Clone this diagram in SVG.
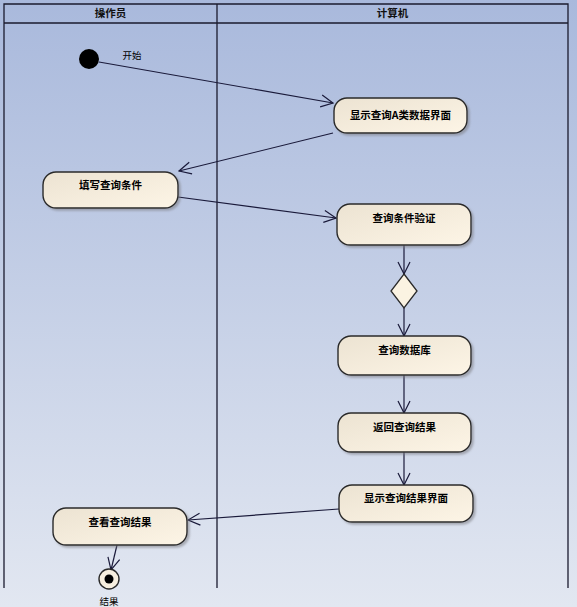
<svg xmlns="http://www.w3.org/2000/svg" width="577" height="607" viewBox="0 0 577 607">
<defs>
<linearGradient id="bg" x1="0" y1="0" x2="0" y2="1">
<stop offset="0" stop-color="#a9b9dc"/>
<stop offset="1" stop-color="#e2e7f1"/>
</linearGradient>
<linearGradient id="nodefill" x1="0" y1="0" x2="1" y2="1">
<stop offset="0" stop-color="#ece3d2"/>
<stop offset="1" stop-color="#fdf5e6"/>
</linearGradient>
<marker id="arr" viewBox="0 0 14 14" refX="13" refY="7" markerWidth="14" markerHeight="14" markerUnits="userSpaceOnUse" orient="auto">
<path d="M1,1 L13,7 L1,13" fill="none" stroke="#1a1a3a" stroke-width="1.2"/>
</marker>
<filter id="sh" x="-10%" y="-10%" width="130%" height="140%">
<feDropShadow dx="2" dy="2" stdDeviation="1.2" flood-color="#7a7a80" flood-opacity="0.55"/>
</filter>
</defs>
<style>
.frame{fill:none;stroke:#1b1b2e;stroke-width:1.3}
.act{fill:url(#nodefill);stroke:#2a2a2a;stroke-width:1.4;filter:url(#sh)}
.lbl{font-family:"Noto Sans CJK SC","DejaVu Sans",sans-serif;font-size:10.5px;font-weight:bold;fill:#000;text-anchor:middle}
.hdr{font-family:"Noto Sans CJK SC","DejaVu Sans",sans-serif;font-size:10.5px;font-weight:bold;fill:#111;text-anchor:middle}
.note{font-family:"Noto Sans CJK SC","DejaVu Sans",sans-serif;font-size:9.5px;fill:#000;text-anchor:middle}
.edge{fill:none;stroke:#1a1a3a;stroke-width:1.2;marker-end:url(#arr)}
</style>
<rect x="0" y="0" width="577" height="607" fill="url(#bg)"/>
<g id="swimlanes">
<path class="frame" d="M4,588 V4 H568 V588 M4,23 H568 M217,4 V588"/>
<text class="hdr" x="110.5" y="17">操作员</text>
<text class="hdr" x="392.5" y="17">计算机</text>
</g>
<g id="connectors">
<line class="edge" x1="99" y1="62" x2="333" y2="103"/>
<line class="edge" x1="333" y1="133" x2="179" y2="171"/>
<line class="edge" x1="178" y1="197" x2="336" y2="218"/>
<line class="edge" x1="404" y1="245" x2="404" y2="274"/>
<line class="edge" x1="404" y1="308" x2="404" y2="336"/>
<line class="edge" x1="404" y1="375" x2="404" y2="413"/>
<line class="edge" x1="404" y1="452" x2="404" y2="485"/>
<line class="edge" x1="339" y1="509" x2="188" y2="520"/>
<line class="edge" x1="117" y1="545" x2="111" y2="570"/>
</g>
<g id="start">
<circle cx="89" cy="59" r="10" fill="#000"/>
<text class="note" x="132" y="59">开始</text>
</g>
<g id="n1">
<rect class="act" x="334" y="98" width="133" height="35" rx="13"/>
<text class="lbl" x="400.5" y="119">显示查询A类数据界面</text>
</g>
<g id="n2">
<rect class="act" x="43" y="172" width="135" height="36" rx="13"/>
<text class="lbl" x="110.5" y="189">填写查询条件</text>
</g>
<g id="n3">
<rect class="act" x="337" y="204" width="134" height="41" rx="13"/>
<text class="lbl" x="404" y="222">查询条件验证</text>
</g>
<g id="decision">
<polygon points="404,274 417,291 404,308 391,291" fill="#fbf3e2" stroke="#2a2a2a" stroke-width="1.3"/>
</g>
<g id="n4">
<rect class="act" x="338" y="336" width="133" height="39" rx="13"/>
<text class="lbl" x="404.5" y="354">查询数据库</text>
</g>
<g id="n5">
<rect class="act" x="338" y="413" width="133" height="39" rx="13"/>
<text class="lbl" x="404.5" y="431">返回查询结果</text>
</g>
<g id="n6">
<rect class="act" x="339" y="485" width="134" height="37" rx="13"/>
<text class="lbl" x="406" y="502">显示查询结果界面</text>
</g>
<g id="n7">
<rect class="act" x="53" y="508" width="134" height="37" rx="13"/>
<text class="lbl" x="120" y="526">查看查询结果</text>
</g>
<g id="end">
<circle cx="109" cy="579" r="10" fill="#f7efdf" stroke="#2a2a2a" stroke-width="1.4"/>
<circle cx="109" cy="579" r="4.5" fill="#000"/>
<text class="note" x="109" y="605">结果</text>
</g>
</svg>
